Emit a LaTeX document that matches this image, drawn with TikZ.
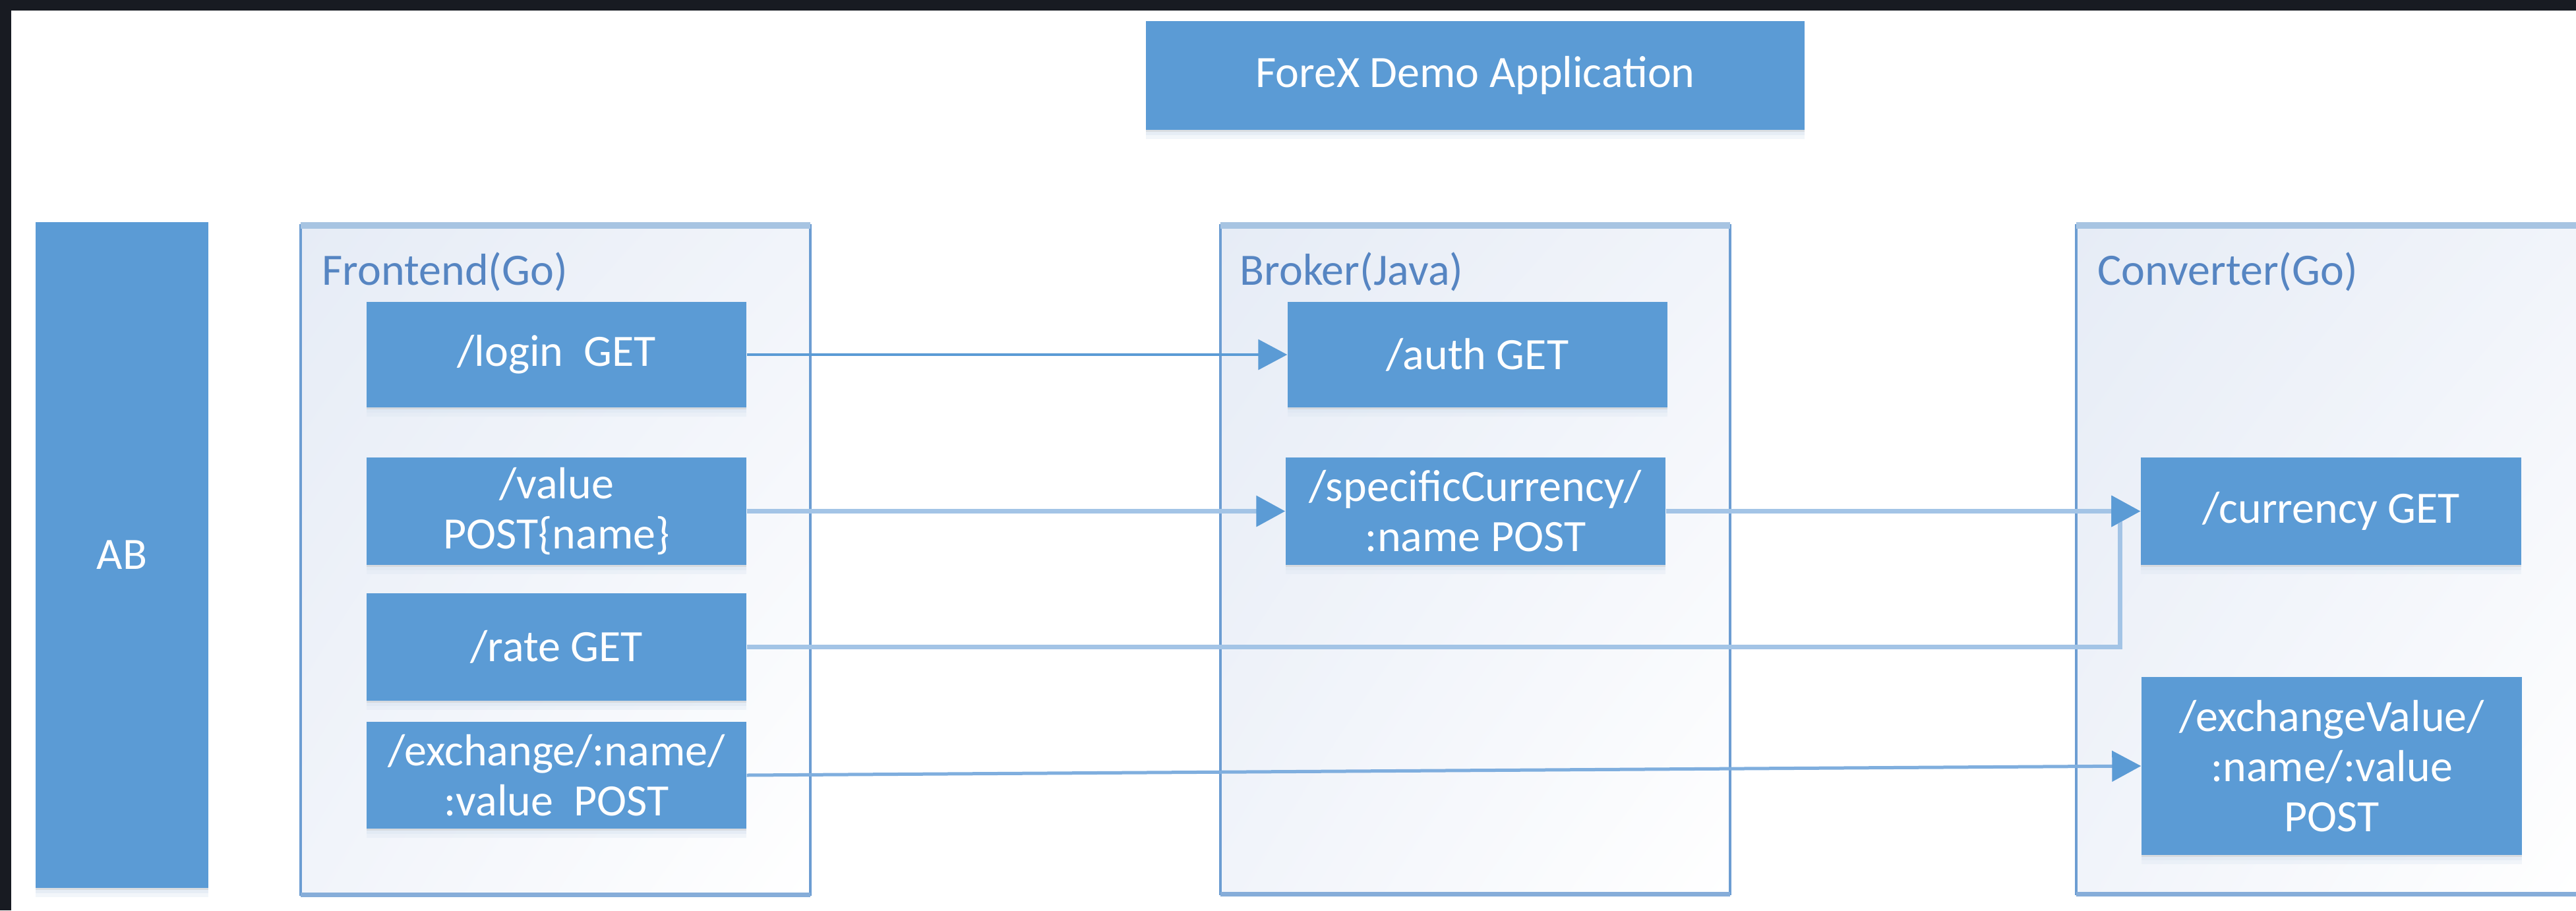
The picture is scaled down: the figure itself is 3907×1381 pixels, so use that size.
\documentclass[tikz,border=0pt]{standalone}
\usepackage{fontspec}
\setmainfont{Carlito}
\usetikzlibrary{arrows.meta,shadows,shadings}
\definecolor{boxblue}{HTML}{5B9BD5}
\definecolor{framec}{HTML}{181B22}
\definecolor{cborder}{HTML}{6C9DD2}
\definecolor{ctop}{HTML}{A7C4E2}
\definecolor{cbottom}{HTML}{86ADD9}
\definecolor{clabel}{HTML}{5685C2}
\definecolor{lightline}{HTML}{A3C4E6}
\definecolor{midline}{HTML}{7FAEDE}
\definecolor{shadowc}{HTML}{DCE6F2}
\definecolor{cfillA}{HTML}{E6ECF6}
\definecolor{cfillB}{HTML}{F1F4FA}
\begin{document}
\begin{tikzpicture}[x=0.1mm,y=-0.1mm,
  every node/.style={font=\fontsize{19.35pt}{21.6pt}\selectfont},
  bluebox/.style={fill=boxblue, text=white, inner sep=0pt, align=center,
    general shadow={shadow xshift=0mm, shadow yshift=-1.4mm, fill=shadowc, opacity=0.35},
    general shadow={shadow xshift=0mm, shadow yshift=-0.8mm, fill=shadowc, opacity=0.5},
    general shadow={shadow xshift=0mm, shadow yshift=-0.3mm, fill=gray!40, opacity=0.5}},
  epbox/.style={bluebox, minimum width=57.6mm, minimum height=16.2mm},
  ctitle/.style={text=clabel, anchor=base west, inner sep=0pt},
  conn/.style={line width=0.45mm, -{Triangle[length=4.4mm,width=4.6mm,color=boxblue]}},
  darkconn/.style={conn, draw=boxblue, line width=0.35mm},
  lightconn/.style={conn, draw=lightline, line width=0.7mm},
  midconn/.style={conn, draw=midline, line width=0.5mm},
  cfill/.style={upper left=cfillA, upper right=cfillB, lower left=cfillB, lower right=white}
]
\useasboundingbox (0,0) rectangle (3907,1381);
\fill[white] (0,0) rectangle (3907,1381);
\fill[framec] (0,0) rectangle (3907,16);
\fill[framec] (0,0) rectangle (17,1381);

% containers
\shade[cfill] (456,342) rectangle (1229,1357);
\draw[cborder, line width=0.35mm] (456,342) rectangle (1229,1357);
\draw[ctop, line width=1mm] (456,342) -- (1229,342);
\draw[cbottom, line width=0.7mm] (456,1357) -- (1229,1357);

\shade[cfill] (1851,342) rectangle (2624,1356);
\draw[cborder, line width=0.35mm] (1851,342) rectangle (2624,1356);
\draw[ctop, line width=1mm] (1851,342) -- (2624,342);
\draw[cbottom, line width=0.7mm] (1851,1356) -- (2624,1356);

\shade[cfill] (3149,342) rectangle (3907,1356);
\draw[cborder, line width=0.35mm] (3907,342) -- (3149,342) -- (3149,1356) -- (3907,1356);
\draw[ctop, line width=1mm] (3149,342) -- (3907,342);
\draw[cbottom, line width=0.7mm] (3149,1356) -- (3907,1356);

\node[ctitle] (felab) at (488,432) {Frontend(Go)};
\node[ctitle] (brlab) at (1880,432) {Broker(Java)};
\node[ctitle] (cvlab) at (3181,432) {Converter(Go)};

% title and AB
\node[bluebox, minimum width=99.9mm, minimum height=16.5mm] (title) at (2237.5,114.5) {ForeX Demo Application};
\node[bluebox, minimum width=26.2mm, minimum height=101mm] (ab) at (185,842) {AB};

% frontend endpoints
\node[epbox, minimum height=16mm] (login) at (844,538) {/login\ \ GET};
\node[epbox, minimum height=16.3mm] (value) at (844,775.5) {/value\\POST\{name\}};
\node[epbox, minimum height=16.3mm] (rate) at (844,981.5) {/rate GET};
\node[epbox] (exch) at (844,1176) {/exchange/:name/\\:value\ \ POST};

% broker endpoints
\node[epbox, minimum height=16mm] (auth) at (2241,538) {/auth GET};
\node[epbox, minimum height=16.3mm] (spec) at (2238,775.5) {/specificCurrency/\\:name POST};

% converter endpoints
\node[epbox, minimum width=57.7mm, minimum height=16.3mm] (cur) at (3535.5,775.5) {/currency GET};
\node[epbox, minimum width=57.7mm, minimum height=27mm] (exv) at (3536.5,1162) {/exchangeValue/\\:name/:value\\POST};

% connectors
\coordinate (rbend) at (3215,775.5);
\draw[darkconn] (login.east) -- (auth.west);
\draw[lightconn] (value.east) -- (spec.west);
\draw[lightconn] (spec.east) -- (cur.west);
\draw[lightconn] (rate.east) -| (rbend) -- (cur.west);
\draw[midconn] (exch.east) -- (exv.west);
\end{tikzpicture}
\end{document}
